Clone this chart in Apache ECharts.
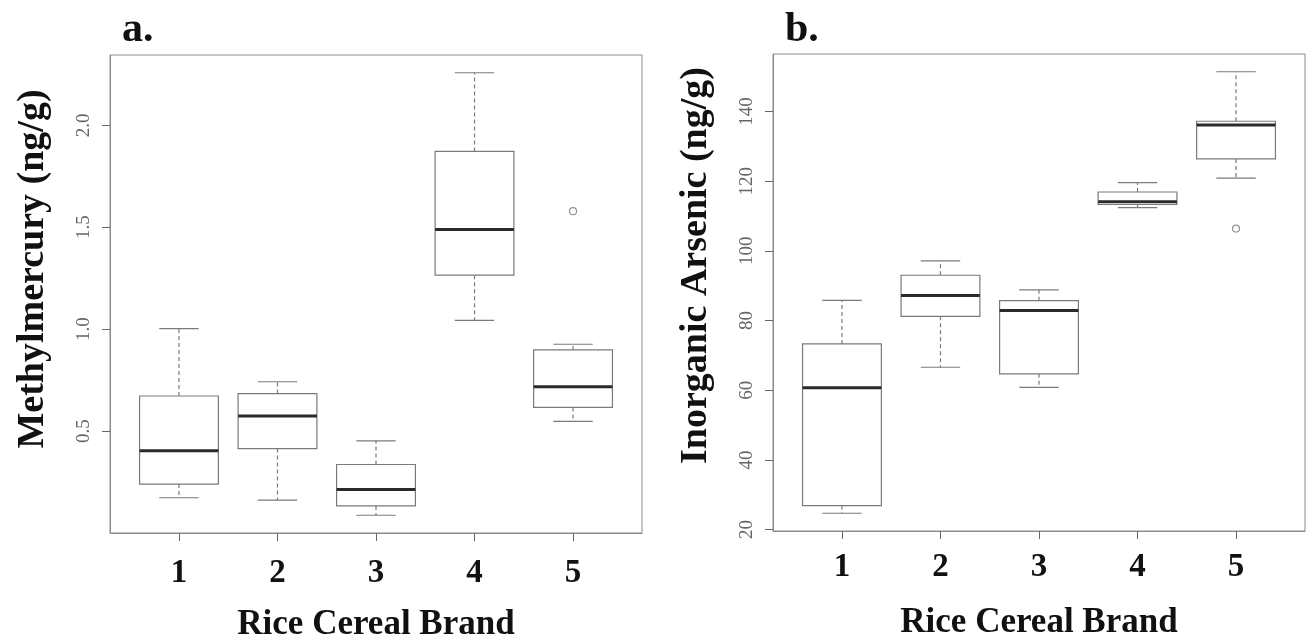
<!DOCTYPE html>
<html>
<head>
<meta charset="utf-8">
<title>Rice cereal brands - boxplots</title>
<script src="https://cdn.jsdelivr.net/npm/echarts@6/dist/echarts.min.js"></script>
<style>
  html, body { margin: 0; padding: 0; background: #fff; }
  #chart { width: 1315px; height: 639px; }
</style>
</head>
<body>
<div id="chart"></div>
<script>
// brands along the x axis
const brands = [1, 2, 3, 4, 5]
const brandLabels = ['1', '2', '3', '4', '5']

// five-number summaries: [min, Q1, median, Q3, max]
const mercuryBoxes = [
  [0.173, 0.240, 0.404, 0.672, 1.003],
  [0.161, 0.414, 0.574, 0.684, 0.742],
  [0.087, 0.133, 0.214, 0.336, 0.452],
  [1.043, 1.265, 1.489, 1.872, 2.258],
  [0.548, 0.616, 0.718, 0.898, 0.926]
]
const mercuryOutliers = [[5, 1.579]]
const mercuryTicks = [0.5, 1.0, 1.5, 2.0]

const arsenicBoxes = [
  [24.7, 26.9, 60.7, 73.3, 85.8],
  [66.6, 81.2, 87.2, 93.0, 97.1],
  [60.8, 64.7, 82.9, 85.7, 88.8],
  [112.4, 113.3, 114.1, 116.9, 119.6],
  [120.9, 126.4, 136.1, 137.2, 151.4]
]
const arsenicOutliers = [[5, 106.4]]
const arsenicTicks = [20, 40, 60, 80, 100, 120, 140]

const serif = '"Liberation Serif", "DejaVu Serif", serif'
const frameColor = '#8c8c8c'
const boxColor = '#7a7a7a'

// prefix each summary with its brand position
function withBrand(boxes) {
  return boxes.map((b, i) => [brands[i]].concat(b))
}

function renderBox(params, api) {
  const x = api.value(0)
  const lo = api.value(1)
  const q1 = api.value(2)
  const med = api.value(3)
  const q3 = api.value(4)
  const hi = api.value(5)
  const half = 0.4
  const cap = 0.2
  const topLeft = api.coord([x - half, q3])
  const botRight = api.coord([x + half, q1])
  const line = (a, b, style) => {
    const p1 = api.coord(a)
    const p2 = api.coord(b)
    return {
      type: 'line',
      shape: { x1: p1[0], y1: p1[1], x2: p2[0], y2: p2[1] },
      style: style
    }
  }
  const thin = { stroke: boxColor, lineWidth: 1.2 }
  const dashed = { stroke: boxColor, lineWidth: 1.2, lineDash: [4, 3] }
  return {
    type: 'group',
    children: [
      line([x, q3], [x, hi], dashed),
      line([x, q1], [x, lo], dashed),
      line([x - cap, hi], [x + cap, hi], thin),
      line([x - cap, lo], [x + cap, lo], thin),
      {
        type: 'rect',
        shape: {
          x: topLeft[0],
          y: topLeft[1],
          width: botRight[0] - topLeft[0],
          height: botRight[1] - topLeft[1]
        },
        style: { fill: '#fff', stroke: boxColor, lineWidth: 1.2 }
      },
      line([x - half, med], [x + half, med], { stroke: '#2a2a2a', lineWidth: 3 })
    ]
  }
}

function xAxisFor(gridIndex, labelMargin) {
  return {
    type: 'value',
    gridIndex: gridIndex,
    min: 0.3,
    max: 5.7,
    splitLine: { show: false },
    axisLine: { show: true, lineStyle: { color: frameColor, width: 1 } },
    axisTick: { show: true, length: 8, customValues: brands, lineStyle: { color: '#666' } },
    axisLabel: {
      customValues: brands,
      formatter: v => brandLabels[v - 1],
      margin: labelMargin,
      fontFamily: serif,
      fontSize: 33,
      fontWeight: 'bold',
      color: '#111'
    },
    name: 'Rice Cereal Brand',
    nameLocation: 'middle',
    nameGap: 74,
    nameTextStyle: { fontFamily: serif, fontSize: 35, fontWeight: 'bold', color: '#111' }
  }
}

function yAxisFor(gridIndex, min, max, ticks, name, namePad) {
  return {
    type: 'value',
    gridIndex: gridIndex,
    min: min,
    max: max,
    splitLine: { show: false },
    axisLine: { show: true, lineStyle: { color: frameColor, width: 1 } },
    axisTick: { show: true, length: 8, customValues: ticks, lineStyle: { color: '#666' } },
    axisLabel: {
      customValues: ticks,
      formatter: v => (gridIndex === 0 ? v.toFixed(1) : String(v)),
      rotate: 90,
      margin: 16,
      fontFamily: serif,
      fontSize: 19,
      color: '#666'
    },
    name: name,
    nameLocation: 'middle',
    nameRotate: 90,
    nameGap: 58,
    nameTextStyle: {
      fontFamily: serif,
      fontSize: 38,
      fontWeight: 'bold',
      color: '#111',
      padding: namePad
    }
  }
}

const chart = echarts.init(document.getElementById('chart'), null, { renderer: 'canvas' })

chart.setOption({
  backgroundColor: '#ffffff',
  animation: false,
  title: [
    { text: 'a.', left: 117, top: 4, textStyle: { fontFamily: serif, fontSize: 42, fontWeight: 'bold', color: '#111' } },
    { text: 'b.', left: 780, top: 4, textStyle: { fontFamily: serif, fontSize: 42, fontWeight: 'bold', color: '#111' } }
  ],
  grid: [
    { left: 110, top: 55, width: 532, height: 478, outerBoundsMode: 'none', show: true, borderColor: frameColor, borderWidth: 1 },
    { left: 773, top: 54, width: 532, height: 477, outerBoundsMode: 'none', show: true, borderColor: frameColor, borderWidth: 1 }
  ],
  xAxis: [xAxisFor(0, 24), xAxisFor(1, 20)],
  yAxis: [
    yAxisFor(0, 0.0, 2.345, mercuryTicks, 'Methylmercury (ng/g)', [0, 0, 0, 50]),
    yAxisFor(1, 19.6, 156.5, arsenicTicks, 'Inorganic Arsenic (ng/g)', [0, 0, 0, 54])
  ],
  series: [
    {
      type: 'custom',
      xAxisIndex: 0,
      yAxisIndex: 0,
      renderItem: renderBox,
      encode: { x: 0, y: [1, 2, 3, 4, 5] },
      data: withBrand(mercuryBoxes)
    },
    {
      type: 'scatter',
      xAxisIndex: 0,
      yAxisIndex: 0,
      symbol: 'circle',
      symbolSize: 7,
      itemStyle: { color: '#fff', borderColor: boxColor, borderWidth: 1.2 },
      data: mercuryOutliers
    },
    {
      type: 'custom',
      xAxisIndex: 1,
      yAxisIndex: 1,
      renderItem: renderBox,
      encode: { x: 0, y: [1, 2, 3, 4, 5] },
      data: withBrand(arsenicBoxes)
    },
    {
      type: 'scatter',
      xAxisIndex: 1,
      yAxisIndex: 1,
      symbol: 'circle',
      symbolSize: 7,
      itemStyle: { color: '#fff', borderColor: boxColor, borderWidth: 1.2 },
      data: arsenicOutliers
    }
  ]
})

window.addEventListener('resize', () => chart.resize())
</script>
</body>
</html>
